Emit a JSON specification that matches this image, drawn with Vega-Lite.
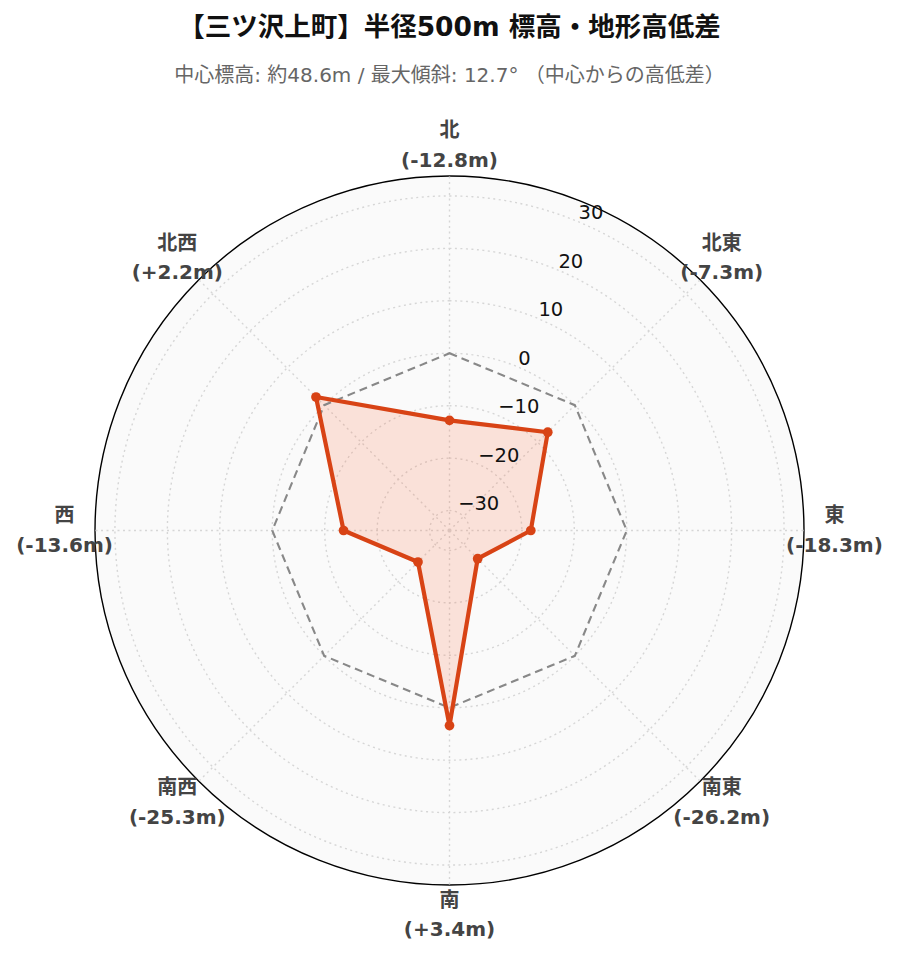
{
  "$schema": "https://vega.github.io/schema/vega-lite/v6.json",
  "width": 709,
  "height": 709,
  "autosize": "none",
  "padding": {"left": 95, "top": 176, "right": 95, "bottom": 77},
  "background": "white",
  "title": {
    "text": "【三ツ沢上町】半径500m 標高・地形高低差",
    "subtitle": "中心標高: 約48.6m / 最大傾斜: 12.7° （中心からの高低差）",
    "anchor": "middle",
    "font": "DejaVu Sans, Noto Sans CJK JP",
    "fontSize": 26.5,
    "fontWeight": "bold",
    "color": "#111111",
    "subtitleFont": "DejaVu Sans, Noto Sans CJK JP",
    "subtitleFontSize": 20,
    "subtitleColor": "#666666",
    "subtitlePadding": 24.5,
    "offset": 35
  },
  "datasets": {
    "dirs": [
      {"dir": "北", "deg": 0, "value": -12.8},
      {"dir": "北東", "deg": 45, "value": -7.3},
      {"dir": "東", "deg": 90, "value": -18.3},
      {"dir": "南東", "deg": 135, "value": -26.2},
      {"dir": "南", "deg": 180, "value": 3.4},
      {"dir": "南西", "deg": 225, "value": -25.3},
      {"dir": "西", "deg": 270, "value": -13.6},
      {"dir": "北西", "deg": 315, "value": 2.2}
    ],
    "ticks": [
      {"t": -30}, {"t": -20}, {"t": -10}, {"t": 0}, {"t": 10}, {"t": 20}, {"t": 30}
    ]
  },
  "layer": [
    {
      "data": {"values": [{"t": 33.8}]},
      "mark": {"type": "arc", "theta": 0, "theta2": 6.2832, "fill": "#fafafa", "stroke": "#000000", "strokeWidth": 1.4},
      "encoding": {
        "radius": {"field": "t", "type": "quantitative", "scale": {"type": "linear", "zero": false, "nice": false, "domain": [-33.8, 33.8], "range": [0, 354.5]}},
        "radius2": {"datum": -33.8}
      }
    },
    {
      "data": {"name": "ticks"},
      "mark": {"type": "arc", "theta": 0, "theta2": 6.2832, "filled": false, "stroke": "#d6d6d6", "strokeWidth": 1.4, "strokeDash": [2, 3.5]},
      "encoding": {
        "radius": {"field": "t", "type": "quantitative", "scale": {"type": "linear", "zero": false, "nice": false, "domain": [-33.8, 33.8], "range": [0, 354.5]}},
        "radius2": {"datum": -33.8}
      }
    },
    {
      "data": {"name": "dirs"},
      "transform": [
        {"calculate": "0", "as": "cx"},
        {"calculate": "0", "as": "cy"},
        {"calculate": "67.6 * sin(datum.deg * PI / 180)", "as": "ox"},
        {"calculate": "67.6 * cos(datum.deg * PI / 180)", "as": "oy"}
      ],
      "mark": {"type": "rule", "stroke": "#d6d6d6", "strokeWidth": 1.4, "strokeDash": [2, 3.5]},
      "encoding": {
        "x": {"field": "cx", "type": "quantitative", "scale": {"domain": [-67.6, 67.6], "nice": false, "zero": false}, "axis": null},
        "y": {"field": "cy", "type": "quantitative", "scale": {"domain": [-67.6, 67.6], "nice": false, "zero": false}, "axis": null},
        "x2": {"field": "ox"},
        "y2": {"field": "oy"}
      }
    },
    {
      "data": {"name": "dirs"},
      "transform": [
        {"calculate": "(datum.value + 33.8) * sin(datum.deg * PI / 180)", "as": "px"},
        {"calculate": "(datum.value + 33.8) * cos(datum.deg * PI / 180)", "as": "py"}
      ],
      "mark": {"type": "line", "interpolate": "linear-closed", "fill": "#FF5722", "fillOpacity": 0.15, "strokeOpacity": 0},
      "encoding": {
        "x": {"field": "px", "type": "quantitative"},
        "y": {"field": "py", "type": "quantitative"},
        "order": {"field": "deg", "type": "quantitative"}
      }
    },
    {
      "data": {"name": "dirs"},
      "transform": [
        {"calculate": "33.8 * sin(datum.deg * PI / 180)", "as": "zx"},
        {"calculate": "33.8 * cos(datum.deg * PI / 180)", "as": "zy"}
      ],
      "mark": {"type": "line", "interpolate": "linear-closed", "stroke": "#888888", "strokeWidth": 2.1, "strokeDash": [8, 5]},
      "encoding": {
        "x": {"field": "zx", "type": "quantitative"},
        "y": {"field": "zy", "type": "quantitative"},
        "order": {"field": "deg", "type": "quantitative"}
      }
    },
    {
      "data": {"name": "dirs"},
      "transform": [
        {"calculate": "(datum.value + 33.8) * sin(datum.deg * PI / 180)", "as": "px"},
        {"calculate": "(datum.value + 33.8) * cos(datum.deg * PI / 180)", "as": "py"}
      ],
      "mark": {"type": "line", "interpolate": "linear-closed", "stroke": "#D84315", "strokeWidth": 4.2, "strokeJoin": "round"},
      "encoding": {
        "x": {"field": "px", "type": "quantitative"},
        "y": {"field": "py", "type": "quantitative"},
        "order": {"field": "deg", "type": "quantitative"}
      }
    },
    {
      "data": {"name": "dirs"},
      "transform": [
        {"calculate": "(datum.value + 33.8) * sin(datum.deg * PI / 180)", "as": "px"},
        {"calculate": "(datum.value + 33.8) * cos(datum.deg * PI / 180)", "as": "py"}
      ],
      "mark": {"type": "point", "filled": true, "color": "#D84315", "size": 95, "opacity": 1},
      "encoding": {
        "x": {"field": "px", "type": "quantitative"},
        "y": {"field": "py", "type": "quantitative"}
      }
    },
    {
      "data": {"name": "ticks"},
      "transform": [
        {"calculate": "(datum.t + 33.8) * sin(PI / 8)", "as": "tx"},
        {"calculate": "(datum.t + 33.8) * cos(PI / 8)", "as": "ty"}
      ],
      "mark": {"type": "text", "align": "left", "baseline": "alphabetic", "dx": 1, "dy": -2, "font": "DejaVu Sans", "fontSize": 19.5, "color": "#111111"},
      "encoding": {
        "x": {"field": "tx", "type": "quantitative"},
        "y": {"field": "ty", "type": "quantitative"},
        "text": {"field": "t", "type": "quantitative", "format": "d"}
      }
    },
    {
      "data": {"name": "dirs"},
      "transform": [
        {"calculate": "73.4 * sin(datum.deg * PI / 180)", "as": "lx"},
        {"calculate": "73.4 * cos(datum.deg * PI / 180)", "as": "ly"},
        {"calculate": "datum.dir + '\\n(' + (datum.value < 0 ? '-' : '+') + format(abs(datum.value), '.1f') + 'm)'", "as": "label"}
      ],
      "mark": {"type": "text", "align": "center", "baseline": "middle", "dy": -14.5, "lineBreak": "\n", "lineHeight": 29.5, "font": "DejaVu Sans, Noto Sans CJK JP", "fontSize": 20, "fontWeight": "bold", "color": "#444444"},
      "encoding": {
        "x": {"field": "lx", "type": "quantitative"},
        "y": {"field": "ly", "type": "quantitative"},
        "text": {"field": "label", "type": "nominal"}
      }
    }
  ],
  "config": {"view": {"stroke": null}}
}
